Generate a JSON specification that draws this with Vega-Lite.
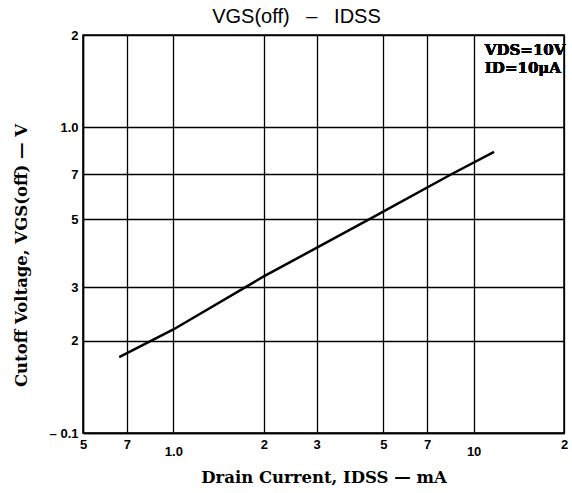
{
  "$schema": "https://vega.github.io/schema/vega-lite/v6.json",
  "width": 481,
  "height": 398,
  "autosize": {"type": "none"},
  "padding": {"left": 83, "top": 35, "right": 8, "bottom": 60},
  "background": "white",
  "title": {
    "text": "VGS(off)\u00a0\u00a0\u00a0–\u00a0\u00a0\u00a0IDSS",
    "font": "Liberation Sans",
    "fontSize": 20,
    "fontWeight": "normal",
    "color": "black",
    "anchor": "middle",
    "dx": -27,
    "frame": "group",
    "offset": 2
  },
  "config": {
    "view": {"stroke": "black", "strokeWidth": 1.5},
    "axis": {
      "grid": true,
      "gridColor": "black",
      "gridWidth": 1.3,
      "gridOpacity": 1,
      "ticks": false,
      "domainColor": "black",
      "domainWidth": 1.5,
      "labelFont": "Liberation Sans",
      "labelFontWeight": "bold",
      "labelFontSize": 13,
      "labelColor": "black",
      "labelOverlap": false,
      "labelFlush": false,
      "titleFont": "DejaVu Serif",
      "titleFontSize": 16.5,
      "titleFontWeight": "bold",
      "titleColor": "black"
    }
  },
  "data": {
    "values": [
      {"I": 0.66, "V": 0.177},
      {"I": 1.0, "V": 0.218},
      {"I": 2.0, "V": 0.325},
      {"I": 4.5, "V": 0.5},
      {"I": 8.4, "V": 0.7},
      {"I": 11.7, "V": 0.83}
    ]
  },
  "layer": [
    {
      "mark": {"type": "line", "color": "black", "strokeWidth": 2.5},
      "encoding": {
        "x": {
          "field": "I",
          "type": "quantitative",
          "scale": {"type": "log", "domain": [0.5, 20], "nice": false},
          "axis": {
            "values": [0.5, 0.7, 1, 2, 3, 5, 7, 10, 20],
            "title": "Drain Current, IDSS — mA",
            "labelExpr": "datum.value == 1 ? '1.0' : datum.value == 10 ? '10' : datum.value == 20 ? '2' : datum.value < 1 ? format(datum.value*10,'d') : format(datum.value,'d')",
            "labelPadding": {"condition": {"test": "datum.value == 1 || datum.value == 10", "value": 12}, "value": 5},
            "titleY": 49,
            "titleBaseline": "alphabetic"
          }
        },
        "y": {
          "field": "V",
          "type": "quantitative",
          "scale": {"type": "log", "domain": [0.1, 2], "nice": false},
          "axis": {
            "values": [0.1, 0.2, 0.3, 0.5, 0.7, 1, 2],
            "title": "Cutoff Voltage, VGS(off) — V",
            "labelExpr": "datum.value == 0.1 ? '– 0.1' : datum.value == 1 ? '1.0' : datum.value == 2 ? '2' : format(datum.value*10,'d')",
            "labelPadding": 5,
            "titleAngle": -90,
            "titleX": -62,
            "titleY": 220,
            "titleAlign": "center",
            "titleBaseline": "middle"
          }
        }
      }
    },
    {
      "mark": {"type": "text", "align": "left", "baseline": "alphabetic", "font": "DejaVu Serif", "fontWeight": "bold", "fontSize": 15, "color": "black"},
      "encoding": {"x": {"datum": 10.9}, "y": {"datum": 1.72}, "text": {"value": "VDS=10V"}}
    },
    {
      "mark": {"type": "text", "align": "left", "baseline": "alphabetic", "font": "DejaVu Serif", "fontWeight": "bold", "fontSize": 15, "color": "black"},
      "encoding": {"x": {"datum": 10.9}, "y": {"datum": 1.5}, "text": {"value": "ID=10μA"}}
    }
  ]
}
